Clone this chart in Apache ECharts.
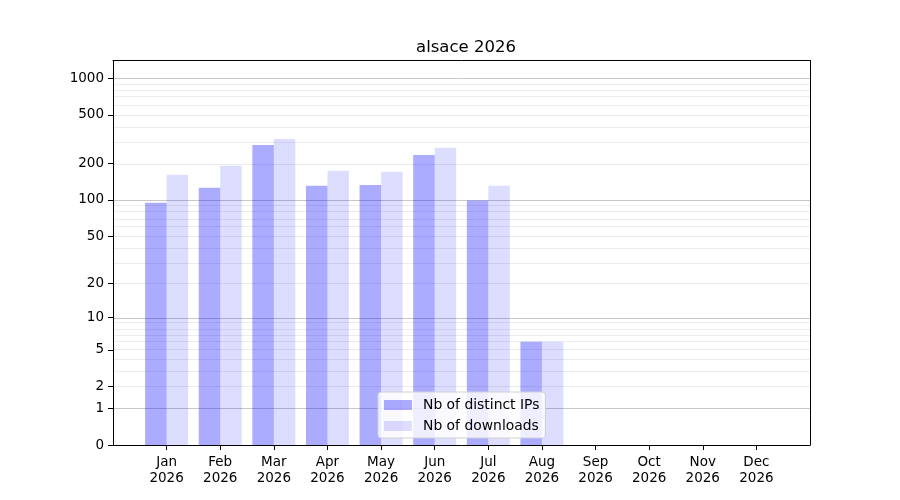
<!DOCTYPE html>
<html style="height: 100%">
<head>
  <meta charset="utf-8">
  <script src="https://cdn.jsdelivr.net/npm/echarts@6/dist/echarts.min.js"></script>
</head>
<body style="height: 100%; margin: 0">
<div id="container" style="width: 900px; height: 500px"></div>
<script type="text/javascript">

var months = ['Jan', 'Feb', 'Mar', 'Apr', 'May', 'Jun', 'Jul', 'Aug', 'Sep', 'Oct', 'Nov', 'Dec'];
var year = '2026';
var distinctIPs = [95, 126, 284, 131, 133, 235, 99, 6, 0, 0, 0, 0];
var downloads = [161, 191, 317, 174, 171, 269, 131, 6, 0, 0, 0, 0];
var yTickLabels = [0, 1, 2, 5, 10, 20, 50, 100, 200, 500, 1000];
var majorGrid = [1, 10, 100, 1000];
var minorSteps = [2, 3, 4, 5, 6, 7, 8, 9];
var decades = [1, 10, 100];

// y scale is log10(v + 1)
function tr(v) { return Math.log10(v + 1); }

var gridLines = [];
majorGrid.forEach(function (v) {
  gridLines.push({ yAxis: tr(v), lineStyle: { color: '#c8c8c8' } });
});
decades.forEach(function (d) {
  minorSteps.forEach(function (s) {
    gridLines.push({ yAxis: tr(s * d), lineStyle: { color: '#ececec' } });
  });
});

var monthIdx = months.map(function (m, i) { return i; });
var blackLine = { show: true, onZero: false, lineStyle: { color: '#000', width: 1 } };

var dom = document.getElementById('container');
var myChart = echarts.init(dom, null, { renderer: 'canvas' });

var option = {
  animation: false,
  textStyle: { fontFamily: 'DejaVu Sans' },
  title: {
    text: 'alsace ' + year,
    left: 461,
    top: 34,
    textAlign: 'center',
    textStyle: { fontFamily: 'DejaVu Sans', fontSize: 16.5, fontWeight: 'normal', color: '#000' }
  },
  grid: {
    left: 113, right: 90, top: 60.5, bottom: 55,
    containLabel: false
  },
  legend: {
    orient: 'vertical',
    left: 378, top: 392,
    itemWidth: 28, itemHeight: 10, itemGap: 7,
    padding: [6, 6, 5, 6],
    borderColor: '#d0d0d0', borderWidth: 1, borderRadius: 3,
    backgroundColor: 'rgba(255,255,255,0.8)',
    textStyle: { fontFamily: 'DejaVu Sans', fontSize: 13.9, color: '#000', padding: [0, 0, 0, 6] },
    data: [
      { name: 'Nb of distinct IPs', icon: 'rect' },
      { name: 'Nb of downloads', icon: 'rect' }
    ]
  },
  xAxis: [
    {
      type: 'value',
      position: 'bottom',
      z: 3,
      min: -1, max: 12, interval: 1,
      splitLine: { show: false },
      axisLine: blackLine,
      axisTick: { show: true, length: 5, customValues: monthIdx, lineStyle: { color: '#000' } },
      axisLabel: {
        customValues: monthIdx,
        margin: 9,
        fontSize: 13.5, color: '#000', lineHeight: 16,
        formatter: function (v) { return months[Math.round(v)] + '\n' + year; }
      }
    },
    {
      type: 'value',
      position: 'top',
      z: 3,
      min: -1, max: 12,
      splitLine: { show: false },
      axisLine: blackLine,
      axisTick: { show: false },
      axisLabel: { show: false }
    }
  ],
  yAxis: [
    {
      type: 'value',
      position: 'left',
      z: 3,
      min: 0, max: 3.145,
      splitLine: { show: false },
      axisLine: blackLine,
      axisTick: { show: true, length: 5, customValues: yTickLabels.map(tr), lineStyle: { color: '#000' } },
      axisLabel: {
        customValues: yTickLabels.map(tr),
        margin: 9,
        fontSize: 13.5, color: '#000',
        formatter: function (v) { return String(Math.round(Math.pow(10, v) - 1)); }
      }
    },
    {
      type: 'value',
      position: 'right',
      z: 3,
      min: 0, max: 3.145,
      splitLine: { show: false },
      axisLine: blackLine,
      axisTick: { show: false },
      axisLabel: { show: false }
    }
  ],
  series: [
    {
      name: 'Nb of distinct IPs',
      type: 'bar',
      z: 2,
      barWidth: 21.5,
      barGap: '0%',
      itemStyle: { color: 'rgba(0,0,255,0.33)' },
      data: distinctIPs.map(function (v, i) { return [i, tr(v)]; }),
      markLine: {
        silent: true,
        z: 1,
        symbol: 'none',
        label: { show: false },
        lineStyle: { type: 'solid', width: 1 },
        data: gridLines
      }
    },
    {
      name: 'Nb of downloads',
      type: 'bar',
      z: 2,
      barWidth: 21.5,
      barGap: '0%',
      itemStyle: { color: 'rgba(0,0,255,0.133)' },
      data: downloads.map(function (v, i) { return [i, tr(v)]; })
    }
  ]
};

myChart.setOption(option);

</script>
</body>
</html>
